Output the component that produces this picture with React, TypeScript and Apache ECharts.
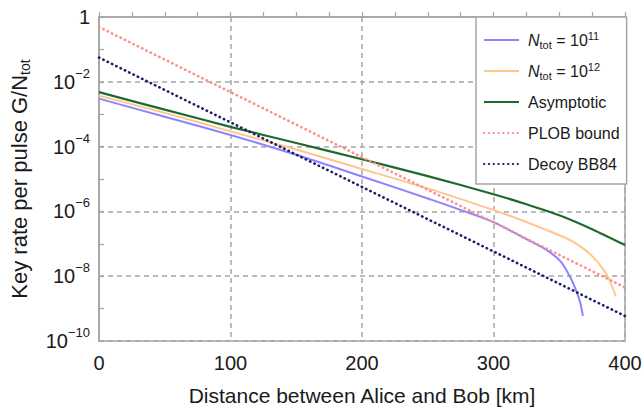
import React, { useEffect, useRef } from "react";
import * as echarts from "echarts";

// Distances (km) and key rates per pulse
const distN11 = [0, 50, 100, 150, 200, 250, 300, 328, 340, 351, 358, 363, 366, 368];
const rateN11 = [3.02e-3, 8.32e-4, 2.29e-4, 5.62e-5, 1.2e-5, 2.51e-6, 4.68e-7, 1.2e-7, 6.61e-8, 2.88e-8, 1.0e-8, 3.47e-9, 1.51e-9, 5.9e-10];

const distN12 = [0, 50, 100, 150, 200, 250, 300, 320, 340, 355, 365, 375, 383, 388, 393];
const rateN12 = [3.72e-3, 1.1e-3, 2.95e-4, 8.13e-5, 2.04e-5, 5.13e-6, 1.1e-6, 5.62e-7, 2.69e-7, 1.51e-7, 8.91e-8, 4.17e-8, 1.74e-8, 7.94e-9, 2.4e-9];

const distAsym = [0, 50, 100, 150, 200, 250, 300, 325, 350, 375, 400];
const rateAsym = [4.79e-3, 1.38e-3, 4.07e-4, 1.29e-4, 4.07e-5, 1.23e-5, 3.39e-6, 1.66e-6, 7.59e-7, 2.82e-7, 9.12e-8];

const distPLOB = [0, 100, 200, 300, 400];
const ratePLOB = [0.49, 4.8e-3, 4.7e-5, 4.6e-7, 4.5e-9];

const distDecoy = [0, 100, 200, 300, 400];
const rateDecoy = [5.6e-2, 5.6e-4, 5.7e-6, 5.8e-8, 5.9e-10];

const seriesNames = ["N11", "N12", "Asymptotic", "PLOB bound", "Decoy BB84"];
const legendLabels: Record<string, string> = {
  N11: "{i|N}{sub|tot}{t| = 10}{sup|11}",
  N12: "{i|N}{sub|tot}{t| = 10}{sup|12}",
  Asymptotic: "{t|Asymptotic}",
  "PLOB bound": "{t|PLOB bound}",
  "Decoy BB84": "{t|Decoy BB84}",
};

const xMin = 0;
const xMax = 400;
const xInterval = 100;
const yMin = 1e-10;
const yMax = 1;
// decade exponents of the y range, for the decade tick axis
const decadeMin = -10;
const decadeMax = 0;

const FONT = "'Liberation Sans', Arial, Helvetica, sans-serif";
const TEXT = "#1a1a1a";
const FRAME = "#a6a6a6";

const pairs = (xs: number[], ys: number[]) => xs.map((x, i) => [x, ys[i]]);

export default function App() {
  const ref = useRef<HTMLDivElement>(null);
  useEffect(() => {
    if (!ref.current) return;
    const chart = echarts.init(ref.current, undefined, { renderer: "svg" });
    const solid = (name: string, xs: number[], ys: number[], color: string, w: number) => ({
      name,
      type: "line",
      data: pairs(xs, ys),
      showSymbol: false,
      symbol: "none",
      smooth: 0.2,
      lineStyle: { color, width: w, type: "solid" },
      itemStyle: { color },
      z: 3,
    });
    const dotted = (name: string, xs: number[], ys: number[], color: string) => ({
      name,
      type: "line",
      data: pairs(xs, ys),
      showSymbol: false,
      symbol: "none",
      lineStyle: { color, width: 2.6, type: [0.4, 4.4], cap: "round" },
      itemStyle: { color },
      z: 4,
    });
    chart.setOption({
      animation: false,
      textStyle: { fontFamily: FONT, color: TEXT },
      grid: {
        left: 99,
        right: 18,
        top: 17,
        bottom: 67,
        containLabel: false,
        outerBoundsMode: "none",
        show: true,
        borderColor: FRAME,
        borderWidth: 1.5,
        backgroundColor: "transparent",
      },
      xAxis: {
        type: "value",
        min: xMin,
        max: xMax,
        interval: xInterval,
        axisLine: { show: true, lineStyle: { color: FRAME, width: 1.5 } },
        axisTick: { show: true, inside: true, length: 5, lineStyle: { color: FRAME, width: 1.2 } },
        minorTick: { show: true, splitNumber: 4, length: 5, lineStyle: { color: FRAME, width: 1.2 } },
        splitLine: { show: true, lineStyle: { color: FRAME, width: 1.5, type: [5, 4] } },
        axisLabel: { fontSize: 20, color: TEXT, margin: 12, fontFamily: FONT },
        name: "Distance between Alice and Bob [km]",
        nameLocation: "middle",
        nameGap: 42,
        nameTextStyle: { fontSize: 21, color: TEXT, lineHeight: 24, fontFamily: FONT },
      },
      yAxis: [
        {
          type: "log",
          logBase: 10,
          min: yMin,
          max: yMax,
          interval: 2,
          axisLine: { show: true, lineStyle: { color: FRAME, width: 1.5 } },
          axisTick: { show: false },
          splitLine: { show: true, lineStyle: { color: FRAME, width: 1.5, type: [5, 4] } },
          axisLabel: {
            margin: 9,
            formatter: (v: number) => {
              const e = Math.round(Math.log10(v));
              return e === 0 ? "{b|1}" : `{b|10}{s|\u2212${-e}}`;
            },
            rich: {
              b: { fontSize: 20, lineHeight: 30, color: TEXT, fontFamily: FONT },
              s: { fontSize: 13, lineHeight: 10, verticalAlign: "top", color: TEXT, fontFamily: FONT },
            },
          },
          name: "{a|Key rate per pulse G/N}{s|tot}",
          nameLocation: "middle",
          nameGap: 67,
          nameTextStyle: {
            rich: {
              a: { fontSize: 22, lineHeight: 26, color: TEXT, fontFamily: FONT },
              s: { fontSize: 14, lineHeight: 14, verticalAlign: "bottom", color: TEXT, fontFamily: FONT },
            },
          },
        },
        {
          // decade ticks (inside) drawn on the same left edge
          type: "value",
          position: "left",
          offset: 0,
          min: decadeMin,
          max: decadeMax,
          interval: 1,
          axisLine: { show: false },
          axisTick: { show: true, inside: true, length: 5, lineStyle: { color: FRAME, width: 1.2 } },
          axisLabel: { show: false },
          splitLine: { show: false },
        },
      ],
      legend: {
        orient: "vertical",
        left: 476,
        top: 17,
        padding: [13, 7, 10, 7],
        itemGap: 11,
        itemWidth: 35,
        itemHeight: 14,
        backgroundColor: "#ffffff",
        borderColor: FRAME,
        borderWidth: 1.5,
        borderRadius: 0,
        itemStyle: { opacity: 0, borderWidth: 0 },
        data: seriesNames,
        formatter: (name: string) => legendLabels[name],
        textStyle: {
          fontSize: 16,
          color: TEXT,
          lineHeight: 20,
          padding: [0, 0, 0, 4],
          rich: {
            t: { fontSize: 16, lineHeight: 20, color: TEXT, fontFamily: FONT },
            i: { fontSize: 16, lineHeight: 20, fontStyle: "italic", color: TEXT, fontFamily: FONT },
            sub: { fontSize: 11, lineHeight: 11, verticalAlign: "bottom", color: TEXT, fontFamily: FONT },
            sup: { fontSize: 11, lineHeight: 11, verticalAlign: "top", color: TEXT, fontFamily: FONT },
          },
        },
      },
      series: [
        solid("N11", distN11, rateN11, "#8c84ff", 2),
        solid("N12", distN12, rateN12, "#ffc68f", 2),
        solid("Asymptotic", distAsym, rateAsym, "#1e6a2c", 2.2),
        dotted("PLOB bound", distPLOB, ratePLOB, "#ff8f8f"),
        dotted("Decoy BB84", distDecoy, rateDecoy, "#1e1e6a"),
      ],
    });
    return () => chart.dispose();
  }, []);
  return (
    <div
      ref={ref}
      style={{ position: "fixed", left: 0, top: 0, width: 643, height: 408, background: "#fff" }}
    />
  );
}
